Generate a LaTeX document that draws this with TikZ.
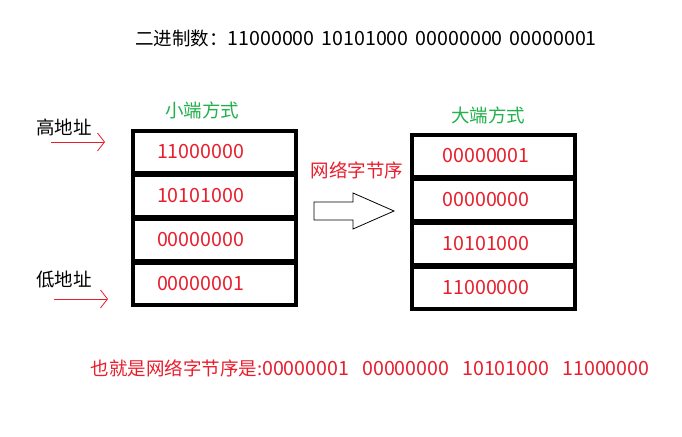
\documentclass[tikz,border=0pt]{standalone}
\usepackage{fontspec}
\setmainfont{Noto Sans CJK SC}
\newfontfamily\digitfont[Scale=1.06]{Noto Sans CJK SC}
\usepackage{tikz}
\usetikzlibrary{positioning,arrows.meta}
\definecolor{bytered}{RGB}{232,30,45}
\definecolor{modegreen}{RGB}{34,177,76}
\tikzset{
  cell/.style = {rectangle, draw, line width=4pt, minimum height=42pt, font=\fontsize{18.5pt}{22pt}\digitfont,
    text width=115pt, inner xsep=24pt, inner ysep=0pt, align=left, text=bytered},
  bigcell/.style = {cell, text width=101pt, inner xsep=31pt},
  mode/.style = {text=modegreen},
  line/.style = {draw=bytered, line width=0.8pt, -{Straight Barb[length=7pt,width=18pt]}}
}

\begin{document}
\begin{tikzpicture}[x=1pt, y=-1pt, every node/.style={font=\fontsize{18.5pt}{22pt}\selectfont}]
    \fill[white] (0,0) rectangle (682,436);
    \useasboundingbox (0,0) rectangle (682,436);

    \node (binary) at (366,38) {二进制数：{\digitfont 11000000\hspace{7pt}10101000\hspace{7pt}00000000\hspace{7pt}00000001}};

    % little endian
    \node [mode] (littletitle) at (202,110) {小端方式};
    \node [cell] (little1) at (214.5,152) {11000000};
    \node [cell, below=-2pt of little1] (little2) {10101000};
    \node [cell, below=-2pt of little2] (little3) {00000000};
    \node [cell, below=-2pt of little3] (little4) {00000001};

    \node (high) at (64,127) {高地址};
    \node (low) at (64,280) {低地址};
    \coordinate (highstart) at (51,142);
    \coordinate (highend) at (105,142);
    \coordinate (lowstart) at (54,299);
    \coordinate (lowend) at (108,299);
    \path[line] (highstart) -- (highend);
    \path[line] (lowstart) -- (lowend);

    % network order
    \node [text=bytered] (order) at (357,170) {网络字节序};
    \draw[line width=0.8pt] (314,202) -- (353,202) -- (353,193) -- (394,211)
        -- (353,229) -- (353,220) -- (314,220) -- cycle;

    % big endian
    \node [mode] (bigtitle) at (488,115) {大端方式};
    \node [bigcell] (big1) at (493,156) {00000001};
    \node [bigcell, below=-2pt of big1] (big2) {00000000};
    \node [bigcell, below=-2pt of big2] (big3) {10101000};
    \node [bigcell, below=-2pt of big3] (big4) {11000000};

    \node [text=bytered] (result) at (370,368) {也就是网络字节序是:{\digitfont 00000001\hspace{13pt}00000000\hspace{13pt}10101000\hspace{13pt}11000000}};
\end{tikzpicture}
\end{document}
